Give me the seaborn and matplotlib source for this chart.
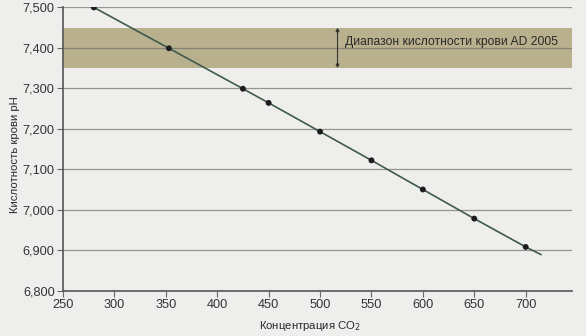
import matplotlib
matplotlib.use("Agg")
import matplotlib.pyplot as plt
from matplotlib.ticker import FuncFormatter
import seaborn as sns
import pandas as pd

# CO2 concentration (ppm) and the corresponding blood pH
co2 = [280, 353, 425, 450, 500, 550, 600, 650, 700]
ph = [7.500, 7.399, 7.299, 7.264, 7.193, 7.122, 7.050, 6.978, 6.908]

# trend line continues a little past the last point
trend_end_co2 = 715
trend_end_ph = 6.889

# normal blood acidity range
band_low, band_high = 7.35, 7.45
band_label = "Диапазон кислотности крови AD 2005"

x_ticks = [250, 300, 350, 400, 450, 500, 550, 600, 650, 700]
y_ticks = [6.8, 6.9, 7.0, 7.1, 7.2, 7.3, 7.4, 7.5]

sns.set_theme(style="white")
plt.rcParams["font.family"] = ["Liberation Sans", "DejaVu Sans"]

bg = "#eeeeec"
fig = plt.figure(figsize=(5.86, 3.36), dpi=100, facecolor=bg)
ax = fig.add_axes([0.1075, 0.135, 0.8685, 0.843])
ax.set_facecolor(bg)

points = pd.DataFrame({"co2": co2, "ph": ph})
trend = pd.DataFrame({"co2": co2 + [trend_end_co2], "ph": ph + [trend_end_ph]})

# band of normal values
ax.axhspan(band_low, band_high, color="#b9b08e", zorder=1, lw=0)

# horizontal grid
for y in y_ticks[1:]:
    ax.axhline(y, color="#6e6e6e", alpha=0.7, lw=0.9, zorder=2)

sns.lineplot(data=trend, x="co2", y="ph", ax=ax, color="#3f5a4c", lw=1.2,
             zorder=3, legend=False)
sns.scatterplot(data=points, x="co2", y="ph", ax=ax, color="#1c1c1c", s=18,
                edgecolor="none", zorder=4, legend=False)

# double arrow marking the band height
ax.annotate("", xy=(517, band_low), xytext=(517, band_high),
            arrowprops=dict(arrowstyle="<|-|>", color="#333333", lw=0.8,
                            mutation_scale=5, shrinkA=0, shrinkB=0),
            zorder=5)
ax.text(524, (band_low + band_high) / 2 + 0.015, band_label, fontsize=8.7,
        color="#2a2a2a", va="center", ha="left", zorder=5)

ax.set_xlim(250, 745)
ax.set_ylim(6.8, 7.5)
ax.set_xticks(x_ticks)
ax.set_yticks(y_ticks)
ax.yaxis.set_major_formatter(FuncFormatter(lambda v, p: f"{v:,.3f}".replace(".", ",")))
ax.tick_params(axis="both", labelsize=9.2, colors="#333333", length=4,
               width=0.8, direction="out", pad=2)
ax.tick_params(axis="x", bottom=True, color="#666666")
ax.tick_params(axis="y", left=True, color="#666666")

for side in ["top", "right"]:
    ax.spines[side].set_visible(False)
for side in ["left", "bottom"]:
    ax.spines[side].set_color("#555555")
    ax.spines[side].set_linewidth(1.2)

ax.set_xlabel("Концентрация CO$_2$", fontsize=8.2, color="#2a2a2a")
ax.set_ylabel("Кислотность крови pH", fontsize=8.2, color="#2a2a2a")
ax.xaxis.set_label_coords(0.485, -0.1)
ax.yaxis.set_label_coords(-0.084, 0.479)

fig.savefig("out.png", dpi=100, facecolor=bg)
